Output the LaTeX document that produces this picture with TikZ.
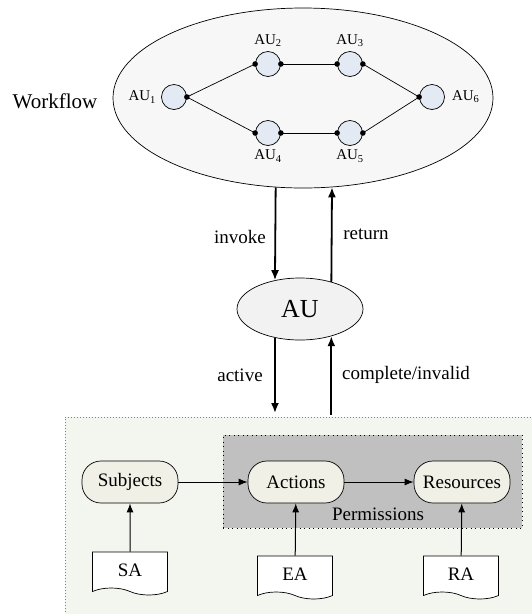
\documentclass[tikz,border=0pt]{standalone}
\usepackage{fontspec}
\setmainfont{Liberation Serif}
\usetikzlibrary{shapes,arrows.meta,positioning}

\definecolor{wffill}{HTML}{F7F7F7}
\definecolor{aufill}{HTML}{F2F2F2}
\definecolor{unitfill}{HTML}{E4EAF4}
\definecolor{domainfill}{HTML}{F3F5EF}
\definecolor{permfill}{HTML}{C0C0C0}
\definecolor{entityfill}{HTML}{F0F0E6}

\begin{document}
\begin{tikzpicture}[
    x=1pt, y=-1pt,
    font=\fontsize{19}{22}\selectfont,
    unit/.style={
        circle,
        draw,
        fill=unitfill,
        line width=0.7pt,
        minimum size=25pt,
        inner sep=0pt
    },
    unitlabel/.style={
        font=\fontsize{15}{17}\selectfont,
        inner sep=1pt
    },
    link/.style={
        draw,
        line width=0.7pt
    },
    flow/.style={
        draw,
        line width=1.8pt,
        -{Latex[length=10pt,width=8pt]}
    },
    line/.style={
        draw,
        line width=1pt,
        -{Latex[length=9pt,width=7pt]}
    },
    entity/.style={
        rectangle,
        draw,
        fill=entityfill,
        rounded corners=19pt,
        line width=0.7pt,
        minimum width=96pt,
        minimum height=42pt,
        inner sep=1pt
    },
    attr/.style={
        tape,
        tape bend top=none,
        tape bend bottom=out and in,
        tape bend height=7pt,
        draw,
        fill=white,
        line width=0.7pt,
        minimum width=75pt,
        minimum height=43pt,
        inner sep=1pt
    }
]
    \useasboundingbox (0,0) rectangle (531,614);

    % Workflow
    \node [ellipse, draw, fill=wffill, line width=0.7pt, minimum width=380pt, minimum height=180pt] (wf) at (303,98) {};
    \node (wftext) at (55,101) {\fontsize{21}{24}\selectfont Workflow};

    \node [unit] (au1) at (174,97) {};
    \node [unit] (au2) at (268,64) {};
    \node [unit] (au3) at (350,64) {};
    \node [unit] (au4) at (268,133) {};
    \node [unit] (au5) at (350,133) {};
    \node [unit] (au6) at (432,97) {};

    \node [unitlabel, left=4pt of au1] (au1label) {AU\textsubscript{1}};
    \node [unitlabel, above=3pt of au2] (au2label) {AU\textsubscript{2}};
    \node [unitlabel, above=3pt of au3] (au3label) {AU\textsubscript{3}};
    \node [unitlabel, below=3pt of au4] (au4label) {AU\textsubscript{4}};
    \node [unitlabel, below=3pt of au5] (au5label) {AU\textsubscript{5}};
    \node [unitlabel, right=6pt of au6] (au6label) {AU\textsubscript{6}};

    \path [link] (au1.east) -- (au2.west);
    \path [link] (au2.east) -- (au3.west);
    \path [link] (au3.east) -- (au6.west);
    \path [link] (au1.east) -- (au4.west);
    \path [link] (au4.east) -- (au5.west);
    \path [link] (au5.east) -- (au6.west);

    \foreach \pt in {au1.east, au2.west, au2.east, au3.west, au3.east, au6.west,
                     au4.west, au4.east, au5.west, au5.east}
        \fill (\pt) circle (2.8);

    % AU
    \node [ellipse, draw, fill=aufill, line width=0.7pt, minimum width=126pt, minimum height=62pt] (au) at (300,309) {\fontsize{26}{30}\selectfont AU};

    % Domain
    \node [rectangle, fill=domainfill, minimum width=480pt, minimum height=210pt, anchor=north west, inner sep=0pt] (domain) at (65,417) {};
    \draw [gray, line width=1pt, dash pattern=on 1pt off 2pt] (domain.south west) -- (domain.north west) -- (domain.north east);

    \node [rectangle, draw, fill=permfill, line width=0.8pt, dash pattern=on 1pt off 3.5pt, minimum width=299pt, minimum height=93pt, anchor=north west, inner sep=0pt] (perm) at (223,435) {};
    \node (permtext) at (378,514) {Permissions};

    \node [entity] (subjects) at (130,482) {Subjects};
    \node [entity] (actions) at (296,482) {Actions};
    \node [entity] (resources) at (462,482) {Resources};

    \node [attr] (sa) at (130,570) {SA};
    \node [attr] (ea) at (295,574) {EA};
    \node [attr] (ra) at (461,574) {RA};

    % Edges
    \path [flow] (wf.-107.5) -- (au.131.3);
    \path [flow] (au.41) -- (wf.-72.5);
    \coordinate (activeend) at (au.-131.3 |- domain.north);
    \coordinate (completestart) at (au.-41 |- domain.north);
    \path [flow, shorten >=4pt] (au.-131.3) -- (activeend);
    \path [flow, shorten <=2pt] (completestart) -- (au.-41);

    \path [line] (subjects) -- (actions);
    \path [line] (actions) -- (resources);
    \path [line] (sa) -- (subjects);
    \path [line] (ea) -- (actions);
    \path [line] (ra) -- (resources);

    % Labels
    \node (invoke) at (240,237) {invoke};
    \node (return) at (366,234) {return};
    \node (active) at (240,375) {active};
    \node (complete) at (406,375) {complete/invalid};

\end{tikzpicture}
\end{document}
